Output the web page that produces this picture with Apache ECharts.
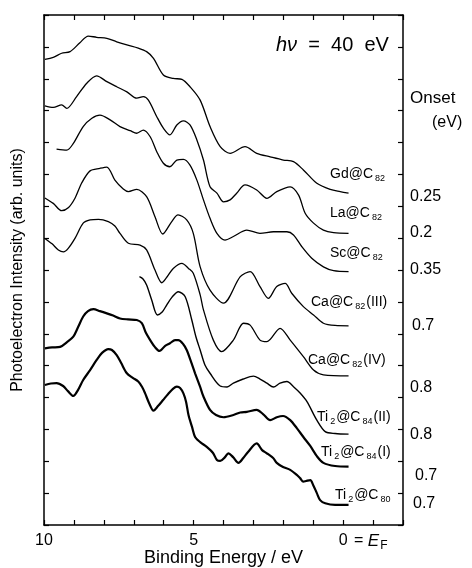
<!DOCTYPE html>
<html><head><meta charset="utf-8">
<script src="https://cdn.jsdelivr.net/npm/echarts@6/dist/echarts.min.js"></script>
<style>html,body{margin:0;padding:0;background:#fff}#c{width:472px;height:568px}</style>
</head><body><div id="c"></div>
<script>
// ---- data (binding energy in eV, intensity in arb. units incl. vertical offsets) ----
const gdC82 = [[9.97,14.61],[9.69,14.67],[9.41,14.80],[9.13,14.85],[8.80,15.13],[8.52,15.34],[8.24,15.30],[7.90,15.27],[7.57,15.16],[7.23,15.06],[6.85,14.96],[6.57,14.85],[6.34,14.64],[6.01,14.12],[5.68,14.01],[5.39,13.98],[5.12,13.75],[4.78,13.33],[4.45,12.50],[4.11,11.87],[3.78,11.66],[3.28,11.87],[2.89,11.66],[2.44,11.55],[2.00,11.45],[1.66,11.40],[1.33,11.14],[0.88,10.72],[0.43,10.53],[0.10,10.46],[-0.18,10.41]];
const laC82 = [[9.97,13.15],[9.69,13.10],[9.41,13.18],[9.24,13.07],[8.91,13.44],[8.57,13.86],[8.24,14.09],[7.90,13.91],[7.57,13.75],[7.23,13.59],[6.90,13.39],[6.68,13.44],[6.51,13.33],[6.23,12.81],[6.01,12.45],[5.79,12.24],[5.56,12.55],[5.34,12.68],[5.12,12.55],[4.89,12.08],[4.67,11.45],[4.45,10.61],[4.22,10.41],[4.00,10.14],[3.78,10.20],[3.56,10.41],[3.28,10.67],[2.89,10.51],[2.55,10.25],[2.22,10.46],[1.77,10.61],[1.49,10.35],[1.27,9.78],[0.99,9.47],[0.66,9.25],[0.32,9.17],[-0.18,9.15]];
const scC82 = [[9.58,11.79],[9.24,11.76],[9.02,11.97],[8.69,12.50],[8.40,12.76],[8.13,12.86],[7.79,12.71],[7.46,12.50],[7.12,12.37],[6.90,12.29],[6.68,12.39],[6.45,12.18],[6.23,11.71],[6.01,11.35],[5.79,11.24],[5.56,11.45],[5.34,11.47],[5.12,11.29],[4.89,10.82],[4.67,10.20],[4.45,9.62],[4.22,9.15],[3.95,8.94],[3.67,9.05],[3.22,9.25],[2.78,9.15],[2.33,9.20],[1.88,9.20],[1.66,9.10],[1.38,8.73],[1.05,8.37],[0.66,8.10],[0.32,7.98],[-0.18,7.95]];
const caC82III = [[9.97,10.26],[9.69,10.09],[9.41,9.86],[9.19,9.95],[8.96,10.26],[8.74,10.73],[8.46,11.11],[8.13,11.19],[7.90,11.23],[7.63,10.82],[7.35,10.54],[7.18,10.46],[6.90,10.53],[6.57,10.30],[6.29,9.67],[6.03,9.13],[5.73,9.52],[5.52,9.73],[5.23,9.57],[5.01,9.15],[4.78,8.10],[4.45,7.37],[4.00,6.96],[3.44,7.79],[3.11,7.95],[2.78,7.48],[2.50,7.11],[2.22,7.48],[1.94,7.58],[1.72,7.27],[1.33,6.85],[0.99,6.59],[0.66,6.33],[0.27,6.26],[-0.18,6.25]];
const caC82IV = [[9.97,8.99],[9.73,8.82],[9.52,8.63],[9.35,8.57],[9.19,8.68],[8.96,9.00],[8.69,9.47],[8.46,9.57],[8.18,9.59],[7.85,9.52],[7.63,9.38],[7.46,9.15],[7.18,8.84],[6.79,8.78],[6.57,8.63],[6.29,8.00],[6.06,7.60],[5.89,7.78],[5.68,8.05],[5.39,8.21],[5.17,8.05],[5.01,7.90],[4.78,7.22],[4.67,6.75],[4.34,5.80],[4.06,5.44],[3.67,5.80],[3.33,6.33],[3.11,6.27],[2.78,5.80],[2.55,5.75],[2.11,6.17],[1.77,5.80],[1.33,5.28],[0.99,4.86],[0.66,4.71],[-0.18,4.68]];
const ti2C84II = [[6.81,7.79],[6.69,7.72],[6.57,7.53],[6.40,7.06],[6.21,6.59],[6.05,6.68],[5.90,6.90],[5.72,7.15],[5.51,7.32],[5.28,7.16],[5.06,6.43],[4.92,5.90],[4.78,5.49],[4.62,5.02],[4.45,4.76],[4.11,4.36],[3.88,4.33],[3.67,4.45],[3.34,4.58],[3.00,4.67],[2.78,4.58],[2.55,4.45],[2.33,4.33],[2.11,4.45],[1.88,4.50],[1.66,4.34],[1.44,4.14],[1.21,3.87],[0.88,3.29],[0.60,2.93],[0.27,2.87],[-0.18,2.85]];
const ti2C84I = [[9.97,5.54],[9.73,5.57],[9.46,5.59],[9.23,5.74],[9.02,5.91],[8.86,6.21],[8.69,6.54],[8.53,6.71],[8.35,6.77],[8.13,6.71],[7.90,6.64],[7.69,6.57],[7.46,6.48],[7.19,6.45],[6.90,6.43],[6.73,6.33],[6.59,6.02],[6.45,5.80],[6.29,5.58],[6.14,5.46],[5.95,5.62],[5.79,5.70],[5.62,5.80],[5.51,5.80],[5.35,5.68],[5.23,5.49],[5.08,5.11],[4.95,4.76],[4.78,4.33],[4.67,4.03],[4.45,3.61],[4.25,3.45],[4.00,3.38],[3.67,3.45],[3.44,3.53],[3.22,3.55],[2.89,3.61],[2.68,3.48],[2.44,3.29],[2.22,3.38],[2.01,3.42],[1.77,3.29],[1.55,3.04],[1.33,2.76],[1.10,2.48],[0.88,2.16],[0.66,1.95],[0.27,1.85],[-0.18,1.83]];
const ti2C80 = [[9.97,4.39],[9.77,4.44],[9.58,4.45],[9.36,4.36],[9.20,4.20],[9.02,4.05],[8.86,4.24],[8.69,4.55],[8.46,4.86],[8.24,5.18],[8.06,5.40],[7.85,5.52],[7.73,5.49],[7.57,5.33],[7.42,5.08],[7.23,4.76],[7.02,4.61],[6.85,4.50],[6.72,4.33],[6.62,4.13],[6.49,3.83],[6.34,3.59],[6.19,3.73],[6.02,3.92],[5.85,4.11],[5.69,4.27],[5.56,4.34],[5.45,4.30],[5.34,4.13],[5.25,3.86],[5.17,3.45],[5.05,3.07],[4.95,2.76],[4.78,2.60],[4.56,2.45],[4.35,2.26],[4.22,2.04],[4.11,2.01],[3.95,2.13],[3.84,2.25],[3.68,2.13],[3.50,1.95],[3.34,2.10],[3.18,2.29],[2.89,2.56],[2.71,2.35],[2.55,2.25],[2.34,2.10],[2.22,1.95],[2.01,1.82],[1.77,1.73],[1.55,1.57],[1.44,1.47],[1.33,1.36],[1.24,1.38],[1.10,1.41],[1.00,1.25],[0.88,1.00],[0.77,0.78],[0.60,0.68],[0.27,0.63],[-0.18,0.63]];
const seriesNames = ['Gd@C_82','La@C_82','Sc@C_82','Ca@C_82(III)','Ca@C_82(IV)','Ti_2@C_84(II)','Ti_2@C_84(I)','Ti_2@C_80'];
const onsetValues = ['0.25','0.2','0.35','0.7','0.8','0.8','0.7','0.7'];
const xTickLabels = {10:'10', 5:'5', 0:'0'};

// ---- layout / style ----
const allSeries = [gdC82, laC82, scC82, caC82III, caC82IV, ti2C84II, ti2C84I, ti2C80];
const lineWidths = [1.3,1.3,1.3,1.3,1.3,1.4,2.2,2.2];
const labelPos = [[330,174],[330,213],[330,253],[311,302],[308,360],[317,417],[321,452],[335,495]];
const onsetPos = [[410,197],[410,233],[410,270],[412,326],[410,388],[410,435],[415,476],[413,504]];
const FONT = '"Liberation Sans", Arial, sans-serif';

function toRich(s){
  return ('{t|' + s.replace(/_(\d+)/g, '}{s|$1}{t|') + '}').replace(/\{t\|\}/g,'');
}
const richSub = {
  t:{fontSize:14, fontFamily:FONT, fill:'#000', lineHeight:16, verticalAlign:'middle'},
  s:{fontSize:9, fontFamily:FONT, fill:'#000', lineHeight:10, padding:[9,1,0,2], verticalAlign:'middle'}
};

const chart = echarts.init(document.getElementById('c'), null, {renderer:'canvas'});
const axisLine = {show:true, onZero:false, lineStyle:{color:'#000', width:1.5}};
const axisTick = {show:true, inside:true, length:5, lineStyle:{color:'#000', width:1.2}};

const graphics = [];
seriesNames.forEach((n,i)=>{
  graphics.push({type:'text', x:labelPos[i][0], y:labelPos[i][1], silent:true,
    style:{text:toRich(n), rich:richSub, textAlign:'left', textVerticalAlign:'middle', fill:'#000'}});
  graphics.push({type:'text', x:onsetPos[i][0], y:onsetPos[i][1], silent:true,
    style:{text:onsetValues[i], font:'16px '+FONT, fill:'#000', textAlign:'left', textVerticalAlign:'middle'}});
});
graphics.push({type:'text', x:410, y:98, silent:true, style:{text:'Onset', font:'17px '+FONT, fill:'#000', textAlign:'left', textVerticalAlign:'middle'}});
graphics.push({type:'text', x:432, y:123, silent:true, style:{text:'(eV)', font:'16px '+FONT, fill:'#000', textAlign:'left', textVerticalAlign:'middle'}});
graphics.push({type:'text', x:276, y:45, silent:true, style:{
  text:'{i|hν}{n|  =  40  eV}', textAlign:'left', textVerticalAlign:'middle',
  rich:{i:{fontSize:20, fontStyle:'italic', fontFamily:FONT, fill:'#000'}, n:{fontSize:20, fontFamily:FONT, fill:'#000'}}}});
graphics.push({type:'text', x:354, y:541, silent:true, style:{
  text:'{n|= }{e|E}{f|F}', textAlign:'left', textVerticalAlign:'middle',
  rich:{n:{fontSize:16, fontFamily:FONT, fill:'#000', lineHeight:16, verticalAlign:'middle'},
        e:{fontSize:17, fontStyle:'italic', fontFamily:FONT, fill:'#000', lineHeight:16, verticalAlign:'middle'},
        f:{fontSize:12, fontFamily:FONT, fill:'#000', lineHeight:12, padding:[10,0,0,1], verticalAlign:'middle'}}}});

chart.setOption({
  animation:false,
  backgroundColor:'#fff',
  grid:{left:44, right:69, top:15, bottom:43, containLabel:false, outerBoundsMode:'none'},
  xAxis:[
    {type:'value', min:-2, max:10, interval:1, inverse:true, position:'bottom',
     axisLine, axisTick, splitLine:{show:false},
     axisLabel:{show:true, showMinLabel:true, showMaxLabel:true, color:'#000', fontSize:16, fontFamily:FONT, margin:8,
       formatter:v=> (xTickLabels[v]!==undefined ? xTickLabels[v] : '')},
     name:'Binding Energy / eV', nameLocation:'middle', nameGap:24, nameMoveOverlap:false,
     nameTextStyle:{color:'#000', fontSize:18, fontFamily:FONT}},
    {type:'value', min:-2, max:10, interval:1, inverse:true, position:'top',
     axisLine, axisTick, splitLine:{show:false}, axisLabel:{show:false}}
  ],
  yAxis:[
    {type:'value', min:0, max:16, interval:1, position:'left',
     axisLine, axisTick, splitLine:{show:false}, axisLabel:{show:false},
     name:'Photoelectron Intensity (arb. units)', nameLocation:'middle', nameGap:18, nameRotate:90,
     nameTextStyle:{color:'#000', fontSize:16, fontFamily:FONT}},
    {type:'value', min:0, max:16, interval:1, position:'right',
     axisLine, axisTick, splitLine:{show:false}, axisLabel:{show:false}}
  ],
  series: allSeries.map((d,i)=>({
    type:'line', name:seriesNames[i], data:d, xAxisIndex:0, yAxisIndex:0,
    showSymbol:false, symbol:'none', smooth:0.3, silent:true,
    lineStyle:{color:'#000', width:lineWidths[i]}
  })),
  graphic: graphics
});
</script></body></html>
